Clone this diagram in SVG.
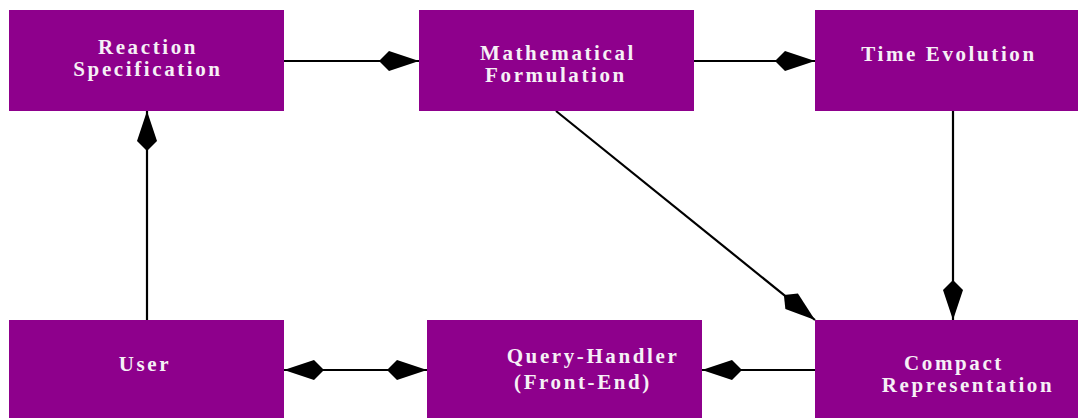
<svg xmlns="http://www.w3.org/2000/svg" width="1078" height="418" viewBox="0 0 1078 418">
  <style>
    .box { fill: #8e008c; }
    .lbl { font-family: "Liberation Serif", "DejaVu Serif", serif; font-weight: bold; font-size: 21px; letter-spacing: 2.6px; fill: #f6f0f6; text-anchor: middle; }
    .edge { fill: none; stroke: #000; stroke-width: 2.2; }
  </style>
  <defs>
    <!-- kite-shaped head, tip at the origin -->
    <marker id="kite" markerUnits="userSpaceOnUse" viewBox="-41 -11 42 22" refX="0" refY="0" markerWidth="42" markerHeight="22" orient="auto-start-reverse">
      <path d="M0,0 L-30,-10 L-40,0 L-30,10 Z" fill="#000"/>
    </marker>
  </defs>

  <g id="connectors">
    <path class="edge" d="M284,61 H419" marker-end="url(#kite)"/>
    <path class="edge" d="M694,61 H815" marker-end="url(#kite)"/>
    <path class="edge" d="M147,320 V111" marker-end="url(#kite)"/>
    <path class="edge" d="M953,111 V320" marker-end="url(#kite)"/>
    <path class="edge" d="M556,111 L815,320" marker-end="url(#kite)"/>
    <path class="edge" d="M284,370 H427" marker-start="url(#kite)" marker-end="url(#kite)"/>
    <path class="edge" d="M815,370 H702" marker-end="url(#kite)"/>
  </g>

  <g id="reaction-specification">
    <rect class="box" x="9" y="10" width="275" height="101"/>
    <text class="lbl" x="148" y="54">Reaction</text>
    <text class="lbl" x="148" y="76">Specification</text>
  </g>
  <g id="mathematical-formulation">
    <rect class="box" x="419" y="10" width="275" height="101"/>
    <text class="lbl" x="558" y="60">Mathematical</text>
    <text class="lbl" x="556" y="82">Formulation</text>
  </g>
  <g id="time-evolution">
    <rect class="box" x="815" y="10" width="275" height="101"/>
    <text class="lbl" x="949" y="61">Time Evolution</text>
  </g>
  <g id="user">
    <rect class="box" x="9" y="320" width="275" height="101"/>
    <text class="lbl" x="145" y="371">User</text>
  </g>
  <g id="query-handler">
    <rect class="box" x="427" y="320" width="275" height="101"/>
    <text class="lbl" x="593" y="363">Query-Handler</text>
    <text class="lbl" x="583" y="389">(Front-End)</text>
  </g>
  <g id="compact-representation">
    <rect class="box" x="815" y="320" width="275" height="101"/>
    <text class="lbl" x="954" y="370">Compact</text>
    <text class="lbl" x="968" y="392">Representation</text>
  </g>
</svg>
